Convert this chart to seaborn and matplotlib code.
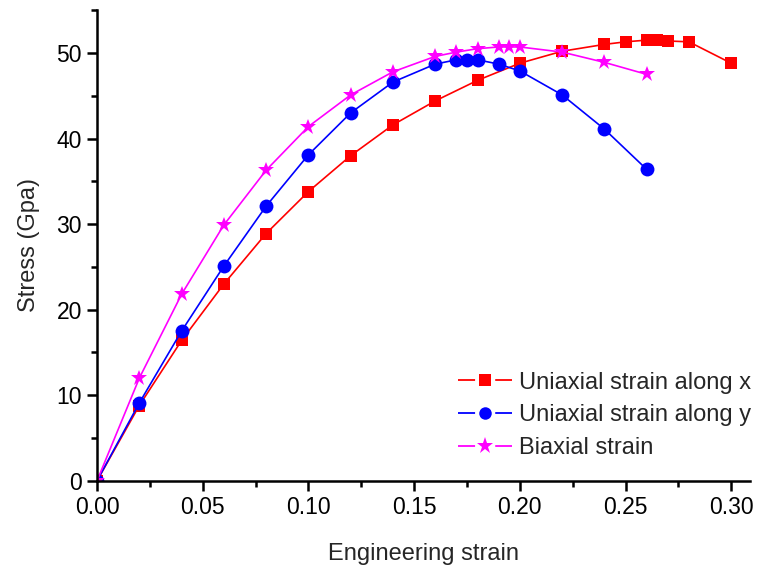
import matplotlib
matplotlib.use("Agg")
import matplotlib.pyplot as plt
import seaborn as sns
import pandas as pd
from matplotlib.ticker import MultipleLocator

sns.set_style("ticks")
plt.rcParams['font.family'] = ['Liberation Sans', 'DejaVu Sans']
plt.rcParams['lines.scale_dashes'] = False

x_strain = [0.0, 0.02, 0.04, 0.06, 0.08, 0.10, 0.12, 0.14, 0.16, 0.18, 0.20, 0.22, 0.24, 0.25, 0.26, 0.265, 0.27, 0.28, 0.30]
x_stress = [0.0, 8.8, 16.4, 23.0, 28.9, 33.8, 38.0, 41.6, 44.4, 46.8, 48.8, 50.2, 51.0, 51.3, 51.5, 51.5, 51.4, 51.3, 48.8]

y_strain = [0.0, 0.02, 0.04, 0.06, 0.08, 0.10, 0.12, 0.14, 0.16, 0.17, 0.175, 0.18, 0.19, 0.20, 0.22, 0.24, 0.26]
y_stress = [0.0, 9.1, 17.5, 25.1, 32.1, 38.1, 43.0, 46.6, 48.7, 49.2, 49.2, 49.2, 48.7, 47.9, 45.1, 41.1, 36.4]

b_strain = [0.0, 0.02, 0.04, 0.06, 0.08, 0.10, 0.12, 0.14, 0.16, 0.17, 0.18, 0.19, 0.195, 0.20, 0.22, 0.24, 0.26]
b_stress = [0.0, 12.0, 21.8, 29.9, 36.3, 41.4, 45.1, 47.8, 49.6, 50.1, 50.5, 50.7, 50.7, 50.7, 50.1, 48.9, 47.5]

labels = ["Uniaxial strain along x", "Uniaxial strain along y", "Biaxial strain"]

fig = plt.figure(figsize=(7.64, 5.65), dpi=100)
ax = fig.add_axes([0.127, 0.149, 0.855, 0.833])

series = [
    (x_strain, x_stress, labels[0], "red", "s", 9),
    (y_strain, y_stress, labels[1], "blue", "o", 10),
    (b_strain, b_stress, labels[2], "magenta", "*", 12),
]
for xs, ys, lab, col, mk, ms in series:
    df = pd.DataFrame({"strain": xs, "stress": ys})
    sns.lineplot(data=df, x="strain", y="stress", ax=ax, color=col, marker=mk,
                 markersize=ms, markeredgewidth=0, linewidth=1.2, sort=False,
                 label=lab, estimator=None)

ax.set_xlim(0, 0.309)
ax.set_ylim(0, 55)
ax.xaxis.set_major_locator(MultipleLocator(0.05))
ax.xaxis.set_minor_locator(MultipleLocator(0.025))
ax.yaxis.set_major_locator(MultipleLocator(10))
ax.yaxis.set_minor_locator(MultipleLocator(5))
ax.set_xticks(ax.get_xticks())
ax.set_xticklabels([f"{v:.2f}" for v in ax.get_xticks()])
ax.set_xlim(0, 0.309)
ax.tick_params(axis='both', which='major', length=7, width=1.8, labelsize=16.5, color='black', labelcolor='black', pad=4)
ax.tick_params(axis='both', which='minor', length=4, width=1.8, color='black')
for s in ["left", "bottom"]:
    ax.spines[s].set_linewidth(1.8)
    ax.spines[s].set_color("black")
sns.despine(ax=ax)
ax.set_xlabel("Engineering strain", fontsize=17, labelpad=17)
ax.set_ylabel("Stress (Gpa)", fontsize=17, labelpad=12)

leg = ax.legend(loc="lower left", frameon=False, fontsize=17,
                handlelength=2.3, handletextpad=0.3, labelspacing=0.45,
                borderpad=0, borderaxespad=0,
                bbox_to_anchor=(458 / 764, 106 / 565), bbox_transform=fig.transFigure)
leg_sizes = [8.5, 9, 12.5]
for h, ms in zip(leg.legend_handles, leg_sizes):
    h.set_linestyle((0, (12.3, 14.5, 20, 0)))
    h.set_linewidth(1.3)
    h.set_markersize(ms)

fig.savefig("out.png", dpi=100)
